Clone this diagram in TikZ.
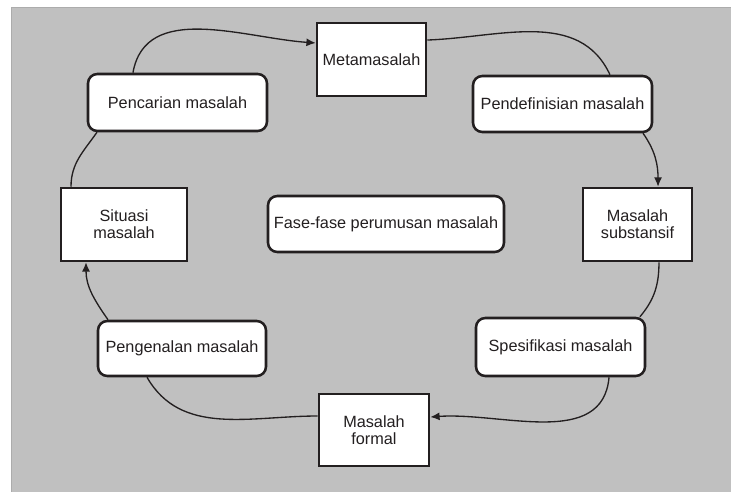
\documentclass[tikz,border=0pt]{standalone}
\usepackage{fontspec}
\setmainfont{Liberation Sans}
\usetikzlibrary{arrows.meta}
\definecolor{bg}{RGB}{192,192,192}
\definecolor{bgedge}{RGB}{172,172,172}
\definecolor{ink}{RGB}{35,31,32}
\begin{document}
\begin{tikzpicture}[x=0.75pt,y=0.75pt,
  box/.style={draw=ink,line width=1.9pt,fill=white,inner sep=0pt,align=center,text=ink,
    font=\fontsize{12.2}{13}\selectfont},
  sqbox/.style={box},
  rbox/.style={box,rounded corners=7pt},
  conn/.style={draw=ink,line width=1pt},
  arr/.style={conn,-{Latex[length=7pt,width=6pt]}}]
\useasboundingbox (0,0) rectangle (731,-492);
\fill[bg,draw=bgedge,line width=0.6pt] (11,-7) rectangle (733,-494);

\node[sqbox,minimum width=81.75pt,minimum height=54.75pt] (meta) at (371.5,-59.5) {Metamasalah};
\node[rbox,minimum width=134.25pt,minimum height=42.75pt] (pencarian) at (177.5,-102.5) {Pencarian masalah};
\node[rbox,minimum width=134.25pt,minimum height=42pt] (pendef) at (562.5,-104) {Pendefinisian masalah};
\node[sqbox,minimum width=94.5pt,minimum height=54.75pt] (situasi) at (124,-224.5) {Situasi\\masalah};
\node[rbox,minimum width=177pt,minimum height=42pt] (fase) at (386,-224) {Fase-fase perumusan masalah};
\node[sqbox,minimum width=81.75pt,minimum height=54.75pt] (subst) at (637.5,-224.5) {Masalah\\substansif};
\node[rbox,minimum width=126pt,minimum height=41.25pt] (pengenalan) at (182,-348.5) {Pengenalan masalah};
\node[rbox,minimum width=126.75pt,minimum height=43.5pt] (spesifikasi) at (560.5,-347) {Spesifikasi masalah};
\node[sqbox,minimum width=82.5pt,minimum height=54pt] (formal) at (374,-430) {Masalah\\formal};

\draw[arr] ([xshift=-33.4pt]pencarian.north) to[out=80,in=176] ([yshift=12.4pt]meta.west);
\draw[conn] ([yshift=14.6pt]meta.east) to[out=2,in=115] ([xshift=35.6pt]pendef.north);
\draw[arr] ([xshift=60.4pt]pendef.south) to[out=-55,in=90] ([xshift=15.4pt]subst.north);
\draw[conn] ([xshift=16.1pt]subst.south) to[out=-90,in=50] ([xshift=59.6pt]spesifikasi.north);
\draw[arr] ([xshift=36.4pt]spesifikasi.south) to[out=-95,in=4] ([yshift=9.75pt]formal.east);
\draw[conn] ([yshift=10.5pt]formal.west) to[out=180,in=-60] ([xshift=-26.25pt]pengenalan.south);
\draw[arr] ([xshift=-55.5pt]pengenalan.north) to[out=125,in=-90] ([xshift=-28.5pt]situasi.south);
\draw[conn] ([xshift=-39.75pt]situasi.north) to[out=90,in=-125] ([xshift=-60.4pt]pencarian.south);
\end{tikzpicture}
\end{document}
